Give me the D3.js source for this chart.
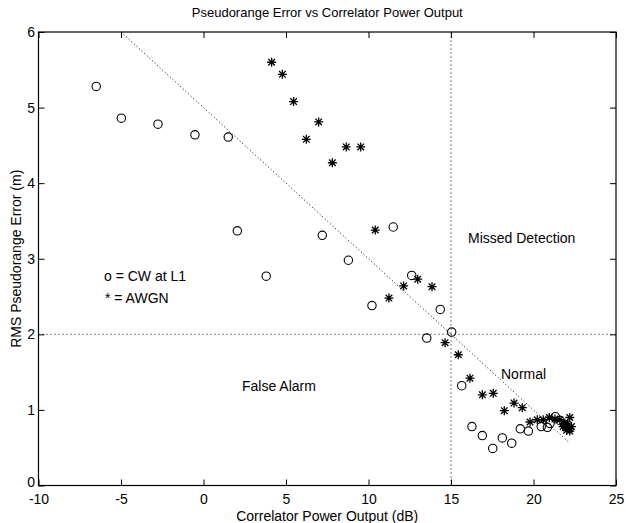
<!DOCTYPE html>
<html>
<head>
<meta charset="utf-8">
<script src="https://cdn.jsdelivr.net/npm/d3@7/dist/d3.min.js"></script>
<style>
  html, body { margin: 0; padding: 0; background: #fff; }
  svg { display: block; }
  text { font-family: "Liberation Sans", Arial, Helvetica, sans-serif; fill: #000; }
</style>
</head>
<body>
<svg id="chart" width="626" height="523"></svg>
<script>
// ---- data ----
const xTicks = [-10, -5, 0, 5, 10, 15, 20, 25];
const yTicks = [0, 1, 2, 3, 4, 5, 6];

// o = CW at L1
const cwX = [-6.5, -4.98, -2.76, -0.52, 1.5, 2.05, 3.8, 7.2, 8.78, 11.5, 10.21, 12.62, 14.35, 15.04, 13.53,
             15.65, 16.27, 16.9, 17.53, 18.11, 18.68, 19.2, 19.69, 20.47, 20.84, 21.0, 21.32, 21.6, 21.9];
const cwY = [5.28, 4.86, 4.78, 4.64, 4.61, 3.37, 2.77, 3.31, 2.98, 3.42, 2.38, 2.78, 2.33, 2.03, 1.95,
             1.32, 0.78, 0.66, 0.49, 0.63, 0.56, 0.75, 0.72, 0.78, 0.77, 0.82, 0.91, 0.86, 0.80];

// * = AWGN
const awgnX = [4.13, 4.78, 5.46, 6.98, 6.23, 8.65, 9.53, 7.81, 10.41, 12.98, 12.13, 13.85, 11.24,
               14.64, 15.44, 16.15, 16.9, 17.56, 18.23, 18.82, 19.32, 19.79, 20.23, 20.59, 20.96,
               21.3, 21.6, 21.9, 22.2, 21.8, 22.0, 22.1, 22.2, 22.3, 22.0, 22.2, 21.9];
const awgnY = [5.60, 5.44, 5.08, 4.81, 4.58, 4.48, 4.48, 4.27, 3.38, 2.73, 2.64, 2.63, 2.48,
               1.89, 1.73, 1.42, 1.20, 1.22, 0.99, 1.09, 1.03, 0.84, 0.87, 0.87, 0.90,
               0.88, 0.87, 0.82, 0.90, 0.78, 0.76, 0.80, 0.75, 0.78, 0.73, 0.72, 0.80];

// threshold lines
const threshX = 15;
const threshY = 2;
const diagX = [-5, 22.2];
const diagY = [6, 0.56];

// annotations
const noteText = ["Missed Detection", "Normal", "False Alarm", "o = CW at L1", "* = AWGN"];
const noteX = [16.03, 18.03, 2.33, -6.03, -5.97];
const noteY = [3.21, 1.41, 1.25, 2.71, 2.42];

const titleText = "Pseudorange Error vs Correlator Power Output";
const xLabel = "Correlator Power Output (dB)";
const yLabel = "RMS Pseudorange Error (m)";

// ---- layout ----
const W = 626, H = 523;
const m = { left: 38.5, top: 32, right: 10, bottom: 37.5 };
const pw = W - m.left - m.right, ph = H - m.top - m.bottom;

const svg = d3.select("#chart");
const g = svg.append("g").attr("transform", `translate(${m.left},${m.top})`);

const x = d3.scaleLinear().domain([-10, 25]).range([0, pw]);
const y = d3.scaleLinear().domain([0, 6]).range([ph, 0]);

const fmt = d => String(d);

// axes with inward ticks
const tl = 6;
g.append("g").attr("transform", `translate(0,${ph})`)
  .call(d3.axisBottom(x).tickValues(xTicks).tickSize(-tl).tickPadding(9).tickFormat(fmt))
  .call(a => a.select(".domain").remove())
  .call(a => a.selectAll("text").attr("font-size", 14).attr("font-family", "Liberation Sans, Arial, sans-serif"));
g.append("g")
  .call(d3.axisTop(x).tickValues(xTicks).tickSize(-tl).tickFormat(""))
  .call(a => a.select(".domain").remove());
g.append("g")
  .call(d3.axisLeft(y).tickValues(yTicks).tickSize(-tl).tickPadding(3.5).tickFormat(fmt))
  .call(a => a.select(".domain").remove())
  .call(a => a.selectAll("text").attr("font-size", 14).attr("font-family", "Liberation Sans, Arial, sans-serif"))
  .call(a => a.selectAll(".tick").filter(d => d === 0).select("text").attr("dy", "0.1em"));
g.append("g").attr("transform", `translate(${pw},0)`)
  .call(d3.axisRight(y).tickValues(yTicks).tickSize(-tl).tickFormat(""))
  .call(a => a.select(".domain").remove());
g.selectAll(".tick line").attr("stroke", "#000").attr("stroke-width", 1);

// box
g.append("rect").attr("x", 0).attr("y", 0).attr("width", pw).attr("height", ph)
  .attr("fill", "none").attr("stroke", "#000").attr("stroke-width", 1.2);

// dotted threshold lines
g.append("line").attr("x1", x(threshX)).attr("x2", x(threshX)).attr("y1", y(0)).attr("y2", y(6))
  .attr("stroke", "#000").attr("stroke-width", 1).attr("stroke-dasharray", "1,3");
g.append("line").attr("x1", x(-10)).attr("x2", x(25)).attr("y1", y(threshY)).attr("y2", y(threshY))
  .attr("stroke", "#000").attr("stroke-width", 1).attr("stroke-dasharray", "1,3");
g.append("line").attr("x1", x(diagX[0])).attr("x2", x(diagX[1])).attr("y1", y(diagY[0])).attr("y2", y(diagY[1]))
  .attr("stroke", "#000").attr("stroke-width", 1).attr("stroke-dasharray", "1,2.5");

// markers
const cw = cwX.map((v, i) => ({ x: v, y: cwY[i] }));
g.selectAll("circle.cw").data(cw).enter().append("circle")
  .attr("class", "cw")
  .attr("cx", d => x(d.x)).attr("cy", d => y(d.y)).attr("r", 4.2)
  .attr("fill", "none").attr("stroke", "#000").attr("stroke-width", 1.1);

const star = "M-4.5,0L4.5,0M0,-4.5L0,4.5M-3.3,-3.3L3.3,3.3M-3.3,3.3L3.3,-3.3";
const aw = awgnX.map((v, i) => ({ x: v, y: awgnY[i] }));
g.selectAll("path.aw").data(aw).enter().append("path")
  .attr("class", "aw")
  .attr("transform", d => `translate(${x(d.x)},${y(d.y)})`)
  .attr("d", star).attr("stroke", "#000").attr("stroke-width", 1.3).attr("fill", "none");

// annotations
g.selectAll("text.note").data(noteText).enter().append("text")
  .attr("class", "note")
  .attr("x", (d, i) => x(noteX[i])).attr("y", (d, i) => y(noteY[i]))
  .attr("font-size", 14).text(d => d);

// title & labels
svg.append("text").attr("x", m.left + pw / 2).attr("y", 17).attr("text-anchor", "middle")
  .attr("font-size", 13).text(titleText);
svg.append("text").attr("x", m.left + pw / 2).attr("y", 521).attr("text-anchor", "middle")
  .attr("font-size", 14).text(xLabel);
svg.append("text").attr("transform", `translate(21,${m.top + ph / 2}) rotate(-90)`)
  .attr("text-anchor", "middle").attr("font-size", 14).text(yLabel);
</script>
</body>
</html>
